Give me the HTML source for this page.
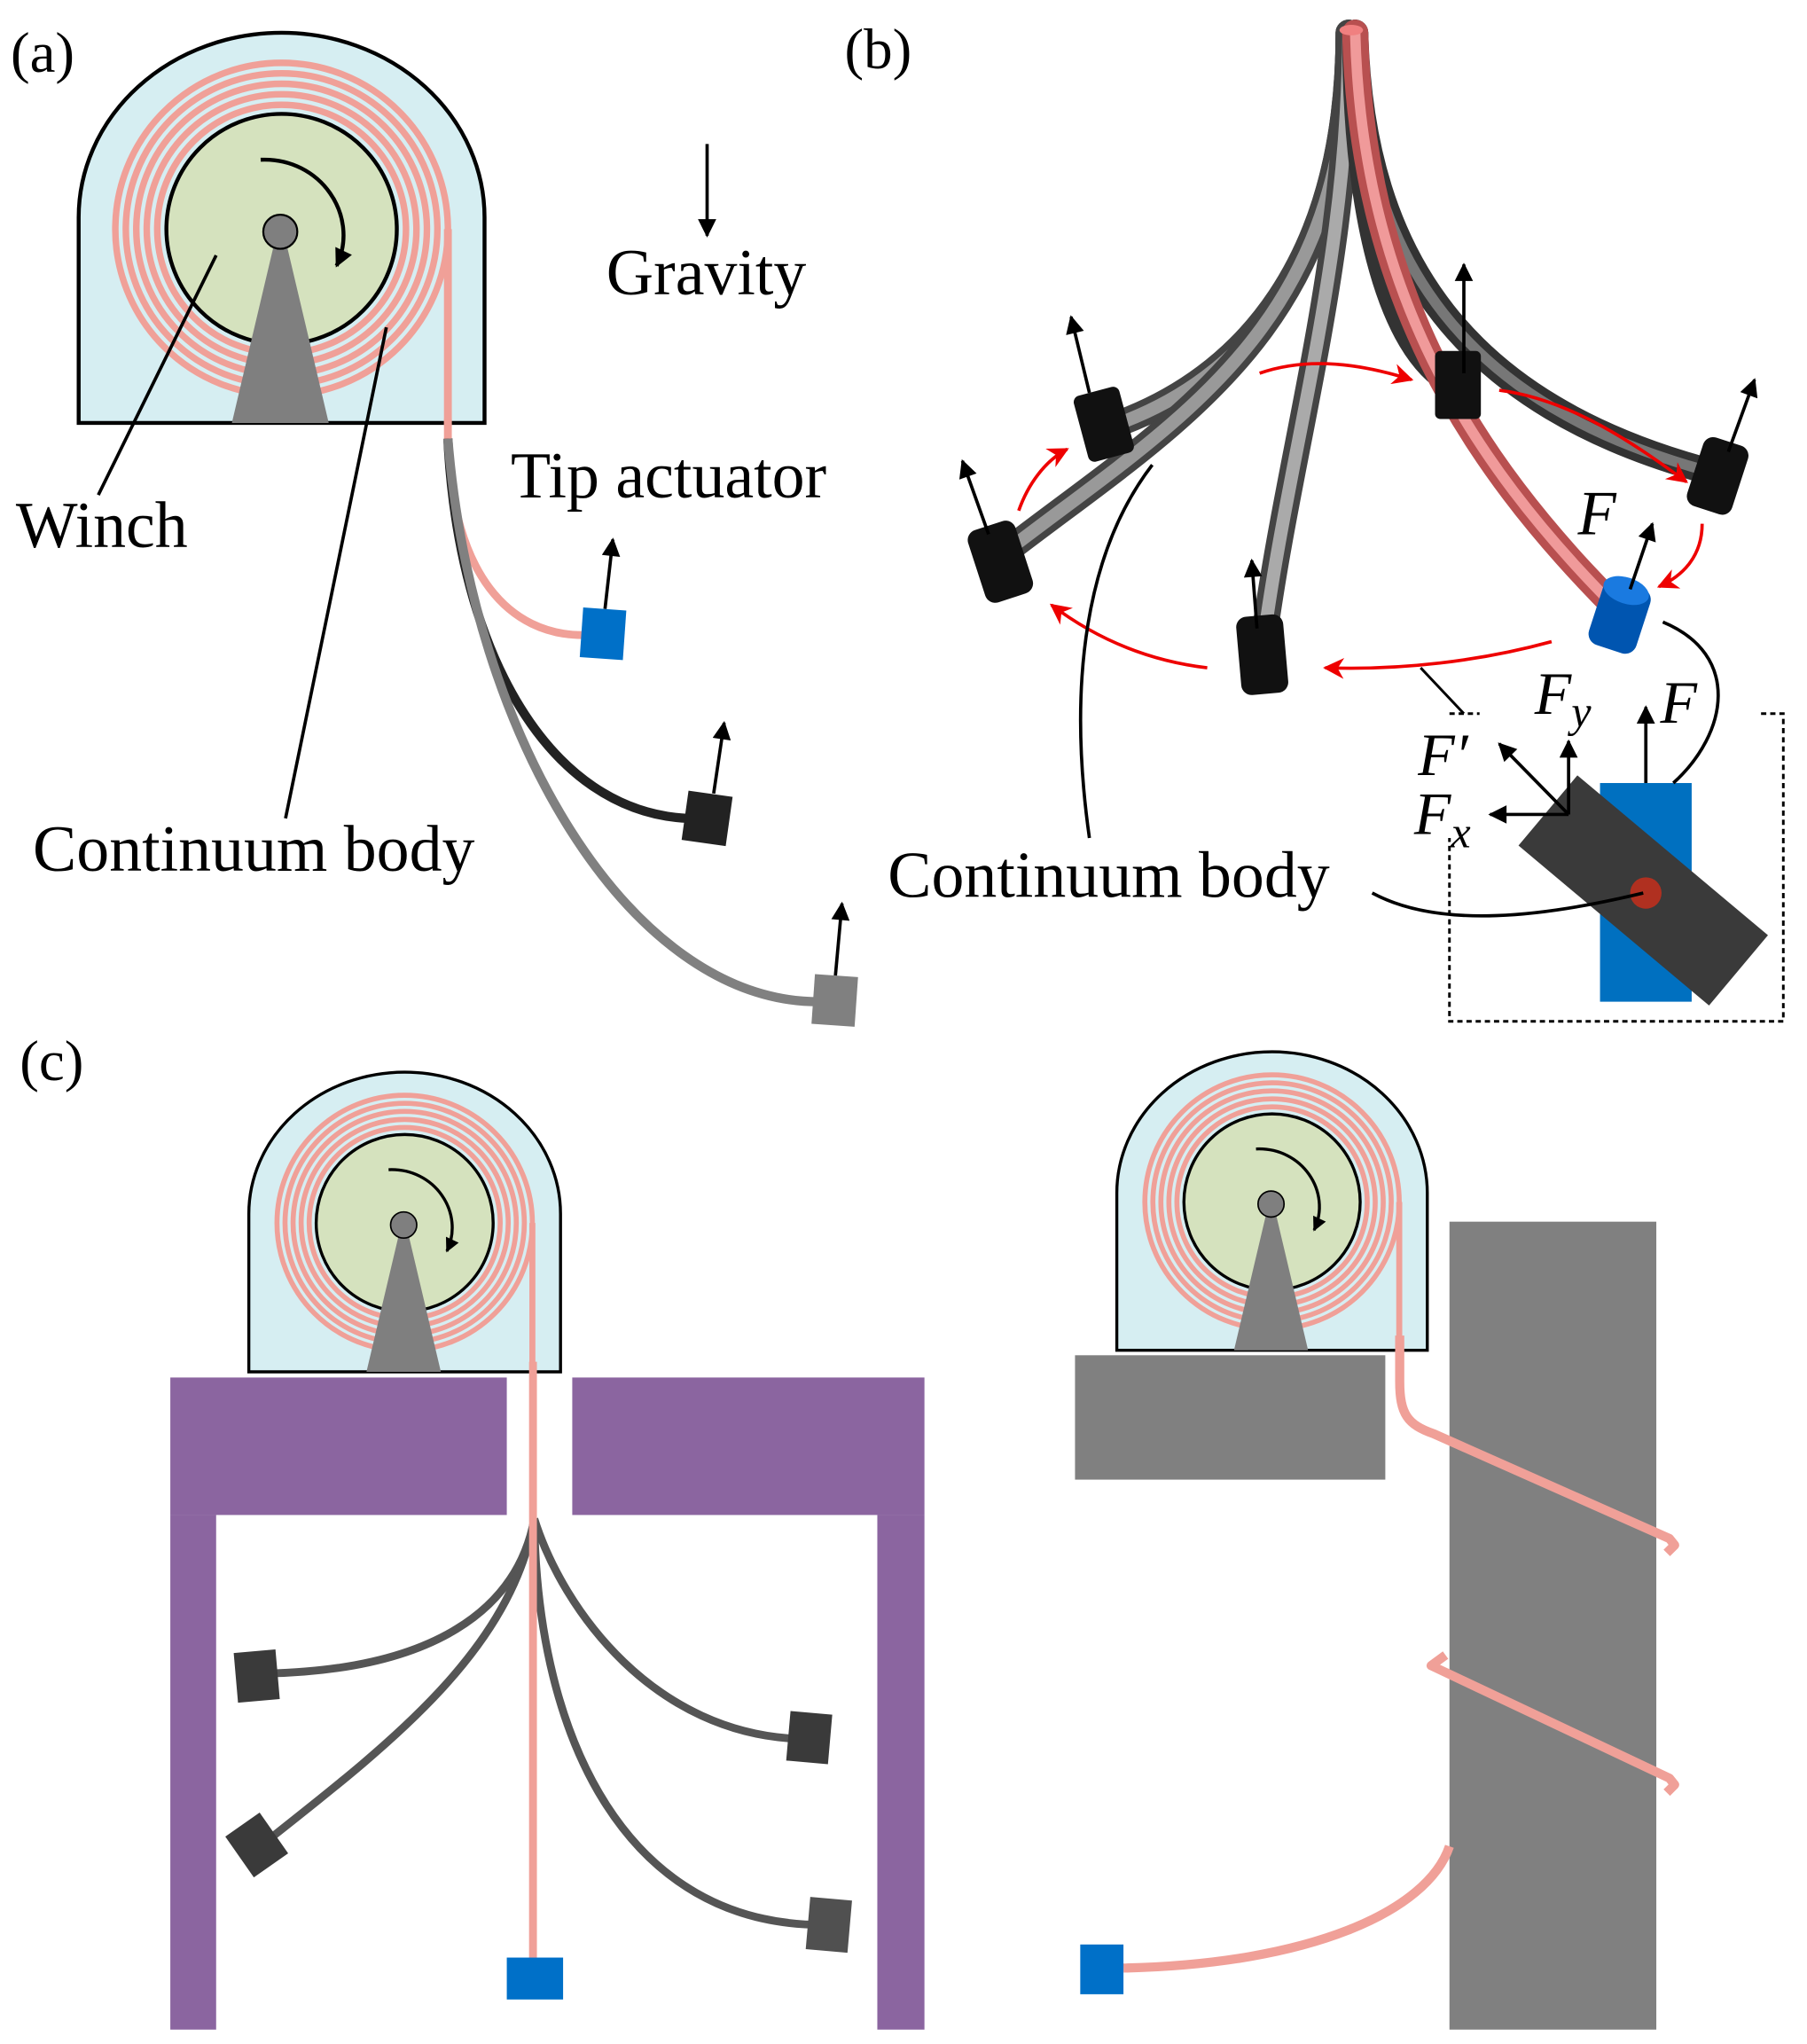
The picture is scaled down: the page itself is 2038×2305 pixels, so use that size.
<!DOCTYPE html>
<html><head><meta charset="utf-8"><style>html,body{margin:0;padding:0;background:#fff}svg{display:block}text{font-family:"Liberation Serif","DejaVu Serif",serif}</style></head>
<body>
<svg width="2038" height="2305" viewBox="0 0 1380 1561" xmlns="http://www.w3.org/2000/svg">
<defs>
<marker id="abk" viewBox="0 0 10 10" refX="9" refY="5" markerWidth="16" markerHeight="14" orient="auto" markerUnits="userSpaceOnUse"><path d="M0,0 L10,5 L0,10 Z" fill="#000"/></marker>
<marker id="ar" viewBox="0 0 10 10" refX="9" refY="5" markerWidth="20" markerHeight="16" orient="auto" markerUnits="userSpaceOnUse"><path d="M0,0 L10,5 L0,10 L3,5 Z" fill="#e00"/></marker>
<g id="winch">
<path d="M-155,148 V-9 A155,141 0 0 1 155,-9 V148 Z" fill="#d6eef2" stroke="#000" stroke-width="3"/>
<g fill="none" stroke="#f0a098" stroke-width="5">
<circle r="127"/><circle r="119"/><circle r="111"/><circle r="103"/><circle r="95"/>
</g>
<line x1="127" y1="0" x2="127" y2="150" stroke="#f0a098" stroke-width="6"/>
<circle r="88" fill="#d5e2be" stroke="#000" stroke-width="3"/>
<polygon points="-38,148 36,148 2,4 -4,4" fill="#7f7f7f"/>
<circle cx="-1" cy="2" r="13" fill="#7f7f7f" stroke="#000" stroke-width="1.5"/>
<path d="M-16,-53 C30,-55 60,-10 42,28" fill="none" stroke="#000" stroke-width="3" marker-end="url(#abk)"/>
</g>
</defs>

<!-- (a) -->
<text x="8" y="55" font-size="44">(a)</text>
<use href="#winch" transform="translate(215,175)"/>
<path d="M342,320 V335 C345,440 390,485 445,485" fill="none" stroke="#f0a098" stroke-width="6"/>
<path d="M342,335 C350,500 420,620 525,625" fill="none" stroke="#222" stroke-width="7"/>
<path d="M342,335 C360,560 480,765 625,765" fill="none" stroke="#808080" stroke-width="7"/>
<rect x="444" y="465" width="33" height="38" fill="#0070c8" transform="rotate(4 460 484)"/>
<rect x="523" y="606" width="34" height="38" fill="#222" transform="rotate(8 540 625)"/>
<rect x="621" y="745" width="33" height="38" fill="#808080" transform="rotate(4 637 764)"/>
<line x1="462" y1="465" x2="468" y2="412" stroke="#000" stroke-width="2.5" marker-end="url(#abk)"/>
<line x1="545" y1="606" x2="553" y2="552" stroke="#000" stroke-width="2.5" marker-end="url(#abk)"/>
<line x1="638" y1="745" x2="643" y2="690" stroke="#000" stroke-width="2.5" marker-end="url(#abk)"/>
<line x1="540" y1="110" x2="540" y2="180" stroke="#000" stroke-width="2.5" marker-end="url(#abk)"/>
<text x="463" y="225" font-size="50">Gravity</text>
<text x="390" y="380" font-size="50">Tip actuator</text>
<text x="12" y="418" font-size="50">Winch</text>
<text x="25" y="665" font-size="50">Continuum body</text>
<line x1="75" y1="378" x2="165" y2="195" stroke="#000" stroke-width="2.5"/>
<line x1="218" y1="625" x2="295" y2="250" stroke="#000" stroke-width="2.5"/>

<!-- (b) -->
<text x="645" y="52" font-size="44">(b)</text>
<g fill="none" stroke-linecap="round">
<path d="M1030,25 C1030,200 950,290 850,325" stroke="#444" stroke-width="20"/>
<path d="M1030,25 C1030,200 950,290 850,325" stroke="#999" stroke-width="10"/>
<path d="M1030,25 C1030,250 900,320 770,420" stroke="#444" stroke-width="20"/>
<path d="M1030,25 C1030,250 900,320 770,420" stroke="#999" stroke-width="10"/>
<path d="M1030,25 C1030,200 985,340 965,490" stroke="#444" stroke-width="20"/>
<path d="M1030,25 C1030,200 985,340 965,490" stroke="#aaa" stroke-width="10"/>
<path d="M1035,25 C1035,160 1060,260 1105,290" stroke="#333" stroke-width="20"/>
<path d="M1035,25 C1040,200 1120,310 1305,360" stroke="#333" stroke-width="20"/>
<path d="M1035,25 C1040,200 1120,310 1305,360" stroke="#777" stroke-width="8"/>
<path d="M1035,25 C1040,220 1120,350 1235,465" stroke="#b85050" stroke-width="20"/>
<path d="M1035,25 C1040,220 1120,350 1235,465" stroke="#f09a9a" stroke-width="8"/>
</g>
<ellipse cx="1032" cy="23" rx="9" ry="4" fill="#f08080"/>
<g fill="#111">
<rect x="825" y="298" width="36" height="52" rx="5" transform="rotate(-15 843 324)"/>
<rect x="745" y="400" width="38" height="58" rx="8" transform="rotate(-18 764 429)"/>
<rect x="946" y="470" width="36" height="60" rx="8" transform="rotate(-5 964 500)"/>
<rect x="1096" y="268" width="35" height="52" rx="4"/>
<rect x="1294" y="336" width="36" height="55" rx="8" transform="rotate(18 1312 363)"/>
</g>
<rect x="1218" y="445" width="38" height="52" rx="9" fill="#0055b0" transform="rotate(18 1237 471)"/>
<ellipse cx="1242" cy="451" rx="18" ry="10" fill="#1a7ae0" transform="rotate(18 1242 451)"/>
<g stroke="#000" stroke-width="2.5" marker-end="url(#abk)">
<line x1="832" y1="300" x2="818" y2="242"/>
<line x1="755" y1="408" x2="735" y2="352"/>
<line x1="960" y1="480" x2="956" y2="428"/>
<line x1="1118" y1="285" x2="1118" y2="202"/>
<line x1="1320" y1="345" x2="1340" y2="290"/>
<line x1="1245" y1="450" x2="1262" y2="400"/>
</g>
<g fill="none" stroke="#e00" stroke-width="2.5" marker-end="url(#ar)">
<path d="M962,285 C1000,272 1040,278 1078,290"/>
<path d="M1145,298 C1200,305 1250,340 1288,368"/>
<path d="M1300,400 C1300,425 1285,440 1267,448"/>
<path d="M1185,490 C1130,505 1070,512 1012,510"/>
<path d="M922,510 C880,505 840,490 803,462"/>
<path d="M778,390 C785,370 798,352 815,343"/>
</g>
<text x="1205" y="408" font-size="48" font-style="italic">F</text>
<path d="M1107,545 H1130 M1345,545 H1362 V780 H1107 V640" fill="none" stroke="#000" stroke-width="2" stroke-dasharray="4,3"/>
<path d="M1085,510 L1118,545" stroke="#000" stroke-width="2" fill="none"/>
<rect x="1222" y="598" width="70" height="167" fill="#0070c0"/>
<rect x="1160" y="645" width="190" height="70" fill="#3a3a3a" transform="rotate(40 1255 680)"/>
<circle cx="1257" cy="682" r="12" fill="#b03020"/>
<g stroke="#000" stroke-width="2.5" marker-end="url(#abk)">
<line x1="1198" y1="622" x2="1198" y2="566"/>
<line x1="1198" y1="622" x2="1145" y2="568"/>
<line x1="1198" y1="622" x2="1138" y2="622"/>
<line x1="1257" y1="598" x2="1257" y2="540"/>
</g>
<g font-size="46" font-style="italic">
<text x="1172" y="545">F<tspan font-size="34" dy="10">y</tspan></text>
<text x="1268" y="552">F</text>
<text x="1083" y="592">F′</text>
<text x="1080" y="637">F<tspan font-size="34" dy="10">x</tspan></text>
</g>
<path d="M1270,475 C1330,500 1320,560 1278,598" fill="none" stroke="#000" stroke-width="2.5"/>
<path d="M1048,682 C1100,710 1180,700 1255,682" fill="none" stroke="#000" stroke-width="2.5"/>
<path d="M880,355 C830,420 815,520 832,640" fill="none" stroke="#000" stroke-width="2.5"/>
<text x="678" y="685" font-size="50">Continuum body</text>

<!-- (c) -->
<text x="15" y="825" font-size="44">(c)</text>
<use href="#winch" transform="translate(309,934) scale(0.768)"/>
<g fill="#8b65a0">
<rect x="130" y="1052" width="257" height="105"/>
<rect x="437" y="1052" width="269" height="105"/>
<rect x="130" y="1157" width="35" height="393"/>
<rect x="670" y="1157" width="36" height="393"/>
</g>
<g fill="none" stroke="#555" stroke-width="6">
<path d="M408,1160 C395,1230 330,1275 205,1278"/>
<path d="M408,1160 C390,1260 300,1330 205,1405"/>
<path d="M408,1160 C430,1230 500,1325 612,1328"/>
<path d="M408,1160 C410,1330 480,1470 628,1470"/>
</g>
<g fill="#3a3a3a">
<rect x="180" y="1261" width="32" height="38" transform="rotate(-5 196 1280)"/>
<rect x="180" y="1390" width="32" height="38" transform="rotate(-35 196 1409)"/>
<rect x="602" y="1308" width="32" height="38" transform="rotate(5 618 1327)"/>
<rect x="617" y="1450" width="32" height="40" fill="#505050" transform="rotate(5 633 1470)"/>
</g>
<line x1="407" y1="1040" x2="407" y2="1497" stroke="#f0a098" stroke-width="6"/>
<rect x="387" y="1495" width="43" height="32" fill="#0070c8"/>

<use href="#winch" transform="translate(971.5,918) scale(0.765)"/>
<rect x="821" y="1035" width="237" height="95" fill="#808080"/>
<rect x="1107" y="933" width="158" height="617" fill="#808080"/>
<g fill="none" stroke="#f0a098" stroke-width="7" stroke-linejoin="round">
<path d="M1069,1020 V1055 C1069,1080 1075,1088 1095,1095 L1275,1175 L1279,1180 L1273,1186"/>
<path d="M1104,1264 L1093,1272 L1275,1358 L1279,1363 L1273,1369"/>
<path d="M1107,1410 C1090,1460 1000,1500 858,1503"/>
</g>
<rect x="825" y="1485" width="33" height="38" fill="#0070c8"/>
</svg>
</body></html>
